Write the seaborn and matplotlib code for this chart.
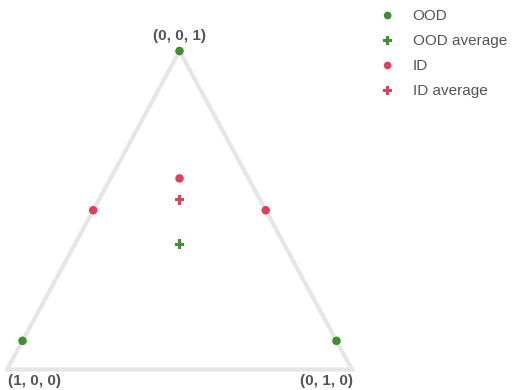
import numpy as np
import pandas as pd
import matplotlib
matplotlib.use("Agg")
import matplotlib.pyplot as plt
import seaborn as sns

sns.set_style("white")
plt.rcParams["font.family"] = ["Liberation Sans", "DejaVu Sans"]

# Barycentric coordinates (a, b, c) of each point
ood_a = [0.91, 0.0, 0.0]
ood_b = [0.0, 0.91, 0.0]
ood_c = [0.09, 0.09, 1.0]
id_a = [0.5, 0.0, 0.2]
id_b = [0.0, 0.5, 0.2]
id_c = [0.5, 0.5, 0.6]
corner_labels = ["(1, 0, 0)", "(0, 1, 0)", "(0, 0, 1)"]

GREEN = "#3f8f32"
RED = "#e0415a"
TEXT = "#555555"
H = np.sqrt(3) / 2


def to_xy(a, b, c):
    a, b, c = (np.asarray(v, float) for v in (a, b, c))
    s = a + b + c
    x = (b + 0.5 * c) / s
    y = H * c / s
    return x, y


def frame(a, b, c, group):
    x, y = to_xy(a, b, c)
    return pd.DataFrame({"x": x, "y": y, "group": group})


ood = frame(ood_a, ood_b, ood_c, "OOD")
idd = frame(id_a, id_b, id_c, "ID")
ood_avg = ood[["x", "y"]].mean().to_frame().T
idd_avg = idd[["x", "y"]].mean().to_frame().T

W, Hpx = 512, 390
fig = plt.figure(figsize=(W / 100, Hpx / 100), dpi=100)
ax = fig.add_axes([7 / W, (Hpx - 369.5) / Hpx, 345 / W, 318.5 / Hpx])
ax.set_xlim(0, 1)
ax.set_ylim(0, H)
ax.axis("off")

# Simplex outline
cx, cy = to_xy([1, 0, 0, 1], [0, 1, 0, 0], [0, 0, 1, 0])
ax.plot(cx, cy, color="#e6e6e6", lw=3.0, solid_joinstyle="miter",
        clip_on=False, zorder=1)

dot_s, plus_s = 38, 50
sns.scatterplot(data=ood, x="x", y="y", ax=ax, color=GREEN, marker="o",
                s=dot_s, edgecolor="none", label="OOD", clip_on=False, zorder=3)
sns.scatterplot(data=ood_avg, x="x", y="y", ax=ax, color=GREEN, marker="P",
                s=plus_s, edgecolor="none", label="OOD average", clip_on=False, zorder=3)
sns.scatterplot(data=idd, x="x", y="y", ax=ax, color=RED, marker="o",
                s=dot_s, edgecolor="none", label="ID", clip_on=False, zorder=3)
sns.scatterplot(data=idd_avg, x="x", y="y", ax=ax, color=RED, marker="P",
                s=plus_s, edgecolor="none", label="ID average", clip_on=False, zorder=3)

# Corner labels, offset from each vertex in points
lx, ly = to_xy([1, 0, 0], [0, 1, 0], [0, 0, 1])
offsets = [(19.8, -8.0), (-18.7, -8.0), (0.0, 10.8)]
for x, y, txt, off in zip(lx, ly, corner_labels, offsets):
    ax.annotate(txt, (x, y), xytext=off, textcoords="offset points",
                ha="center", va="center", fontsize=11, fontweight="bold",
                color=TEXT, annotation_clip=False)

ax.legend(loc="upper left", bbox_to_anchor=(380 / W, 1 - 8.5 / Hpx),
          bbox_transform=fig.transFigure, frameon=False, fontsize=11,
          labelcolor=TEXT, handlelength=1.0, handletextpad=1.14,
          borderpad=0, borderaxespad=0, labelspacing=0.72,
          markerscale=0.9)

fig.savefig("out.png", dpi=100)
